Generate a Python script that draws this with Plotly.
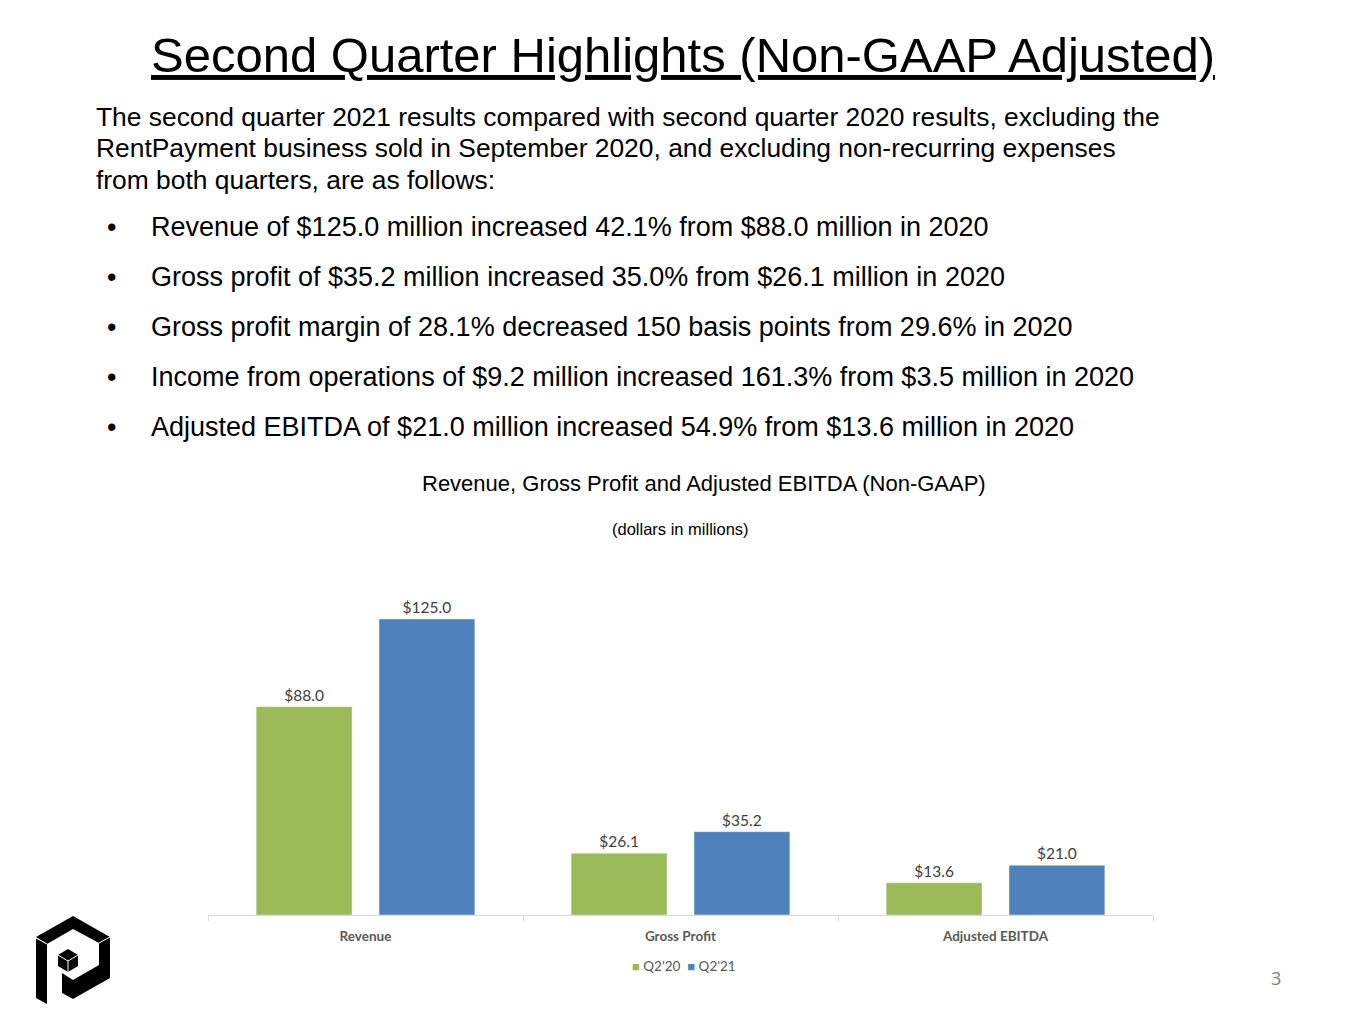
import plotly.graph_objects as go

# chart data
categories = ["Revenue", "Gross Profit", "Adjusted EBITDA"]
q2_20 = [88.0, 26.1, 13.6]
q2_21 = [125.0, 35.2, 21.0]
series_names = ["Q2'20", "Q2'21"]

intro_lines = [
    "The second quarter 2021 results compared with second quarter 2020 results, excluding the",
    "RentPayment business sold in September 2020, and excluding non-recurring expenses",
    "from both quarters, are as follows:",
]
bullets = [
    "Revenue of $125.0 million increased 42.1% from $88.0 million in 2020",
    "Gross profit of $35.2 million increased 35.0% from $26.1 million in 2020",
    "Gross profit margin of 28.1% decreased 150 basis points from 29.6% in 2020",
    "Income from operations of $9.2 million increased 161.3% from $3.5 million in 2020",
    "Adjusted EBITDA of $21.0 million increased 54.9% from $13.6 million in 2020",
]

# page body has an 8px margin, so the figure starts at (8, 8)
OFF = 8
W, H = 1365 - OFF, 1024 - OFF


def px(x):
    return (x - OFF) / W


def py(y):
    return 1 - (y - OFF) / H


GREEN = "#9BBB59"
BLUE = "#4F81BD"
colors = [GREEN, BLUE]
CHART_FONT = "Lato"
SLIDE_FONT = "Liberation Sans"

fig = go.Figure()
for name, vals, col in zip(series_names, [q2_20, q2_21], colors):
    fig.add_trace(go.Bar(
        x=categories, y=vals, name=name, marker_color=col,
        texttemplate="$%{y:.1f}", textposition="outside", cliponaxis=False,
        textfont=dict(family=CHART_FONT, size=15.5, color="#404040"),
    ))

annotations = []
# title
annotations.append(dict(
    text="<u>Second Quarter Highlights (Non-GAAP Adjusted)</u>",
    x=px(683), y=py(55), xref="paper", yref="paper", showarrow=False,
    xanchor="center", yanchor="middle",
    font=dict(family=SLIDE_FONT, size=49, color="#000000"),
))
for i, line in enumerate(intro_lines):
    annotations.append(dict(
        text=line, x=px(94), y=py(117 + i * 31.5), xref="paper", yref="paper",
        showarrow=False, xanchor="left", yanchor="middle",
        font=dict(family=SLIDE_FONT, size=26.4, color="#000000"),
    ))
for i, b in enumerate(bullets):
    yy = py(227 + i * 50)
    annotations.append(dict(
        text="•", x=px(105), y=yy, xref="paper", yref="paper", showarrow=False,
        xanchor="left", yanchor="middle",
        font=dict(family=SLIDE_FONT, size=27, color="#000000"),
    ))
    annotations.append(dict(
        text=b, x=px(149), y=yy, xref="paper", yref="paper", showarrow=False,
        xanchor="left", yanchor="middle",
        font=dict(family=SLIDE_FONT, size=27, color="#000000"),
    ))
annotations.append(dict(
    text="Revenue, Gross Profit and Adjusted EBITDA (Non-GAAP)",
    x=px(704), y=py(483), xref="paper", yref="paper", showarrow=False,
    xanchor="center", yanchor="middle",
    font=dict(family=SLIDE_FONT, size=22, color="#000000"),
))
annotations.append(dict(
    text="(dollars in millions)",
    x=px(680), y=py(529), xref="paper", yref="paper", showarrow=False,
    xanchor="center", yanchor="middle",
    font=dict(family=SLIDE_FONT, size=16.5, color="#000000"),
))
# legend, drawn as text with coloured squares
legend_text = "  ".join(
    f"<span style='color:{c};font-size:13px'>■</span> {n}"
    for n, c in zip(series_names, colors))
annotations.append(dict(
    text=legend_text, x=px(684), y=py(966), xref="paper", yref="paper",
    showarrow=False, xanchor="center", yanchor="middle",
    font=dict(family=CHART_FONT, size=13.5, color="#595959"),
))
annotations.append(dict(
    text="3", x=px(1276), y=py(978), xref="paper", yref="paper", showarrow=False,
    xanchor="center", yanchor="middle",
    font=dict(family="Open Sans", size=18, color="#7f7f7f"),
))


# logo drawn from simple polygons
def poly(points):
    d = "M " + " L ".join(f"{px(x):.5f},{py(y):.5f}" for x, y in points) + " Z"
    return d


logo_black = [
    [(36, 938), (47, 944), (47, 1004), (36, 998)],
    [(36, 937), (73, 916), (73, 929), (47, 944)],
    [(73, 916), (110, 937), (99, 943), (73, 929)],
    [(110, 937), (110, 978), (73, 999), (62, 993), (62, 973), (73, 980),
     (99, 965), (99, 943)],
    [(68, 949), (78, 955), (78, 966), (68, 972), (58, 966), (58, 955)],
]
shapes = []
for p in logo_black:
    shapes.append(dict(type="path", path=poly(p), xref="paper", yref="paper",
                       fillcolor="#000000", line=dict(width=0)))
for a, b in [((68, 961), (78, 955)), ((68, 961), (58, 955)), ((68, 961), (68, 972)),
             ((36, 938), (47, 944)), ((99, 943), (110, 937))]:
    shapes.append(dict(type="line", xref="paper", yref="paper",
                       x0=px(a[0]), y0=py(a[1]), x1=px(b[0]), y1=py(b[1]),
                       line=dict(color="#ffffff", width=1)))

fig.update_layout(
    width=W, height=H,
    margin=dict(l=0, r=0, t=0, b=0),
    paper_bgcolor="white", plot_bgcolor="white",
    barmode="group", bargap=0.22, bargroupgap=0.22,
    showlegend=False,
    xaxis=dict(domain=[px(208), px(1153)], showgrid=False, showline=True,
               linecolor="#d9d9d9", linewidth=1, ticks="outside", tickson="boundaries",
               ticklen=5, tickcolor="#d9d9d9", ticklabelstandoff=9,
               tickfont=dict(family=CHART_FONT, size=13.5, color="#595959")),
    yaxis=dict(domain=[py(915), py(583.5)], range=[0, 140], visible=False),
    annotations=annotations,
    shapes=shapes,
    font=dict(family=CHART_FONT),
)
fig.update_xaxes(tickprefix="<b>", ticksuffix="</b>")

fig.write_html("out.html")
